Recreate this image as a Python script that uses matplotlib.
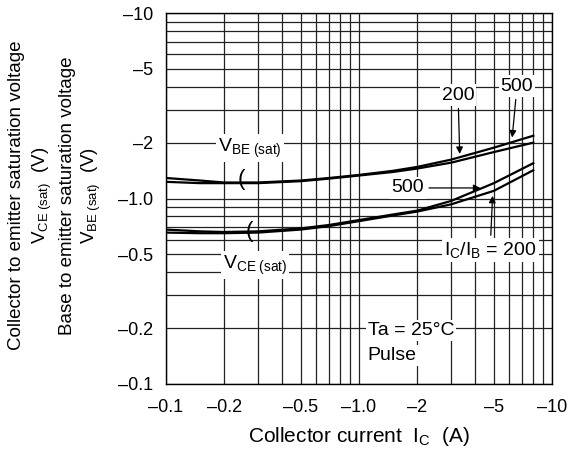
import matplotlib
matplotlib.use("Agg")
import matplotlib.pyplot as plt
from matplotlib.ticker import FixedLocator, NullFormatter

plt.rcParams["font.family"] = ["Liberation Sans", "DejaVu Sans"]
plt.rcParams["mathtext.fontset"] = "custom"
plt.rcParams["mathtext.rm"] = "Liberation Sans"
plt.rcParams["mathtext.it"] = "Liberation Sans"

# collector current magnitude (A), plotted on -0.1 .. -10 scale
IC = [0.1, 0.15, 0.2, 0.3, 0.5, 0.7, 1.0, 1.5, 2.0, 3.0, 5.0, 8.0]
VBE_500 = [1.29, 1.25, 1.22, 1.22, 1.25, 1.29, 1.34, 1.41, 1.48, 1.62, 1.88, 2.18]
VBE_200 = [1.23, 1.21, 1.21, 1.21, 1.24, 1.28, 1.33, 1.39, 1.45, 1.56, 1.78, 2.00]
VCE_500 = [0.68, 0.665, 0.66, 0.665, 0.69, 0.72, 0.765, 0.82, 0.86, 0.97, 1.21, 1.55]
VCE_200 = [0.655, 0.65, 0.65, 0.655, 0.68, 0.71, 0.755, 0.81, 0.85, 0.93, 1.10, 1.42]

X_TICKS = [0.1, 0.2, 0.5, 1.0, 2, 5, 10]
X_LABELS = ["\u20130.1", "\u20130.2", "\u20130.5", "\u20131.0", "\u20132", "\u20135", "\u201310"]
Y_TICKS = [0.1, 0.2, 0.5, 1.0, 2, 5, 10]
Y_LABELS = ["\u20130.1", "\u20130.2", "\u20130.5", "\u20131.0", "\u20132", "\u20135", "\u201310"]
GRID = [k * 10.0 ** e for e in (-1, 0) for k in range(1, 10)] + [10.0]

fig = plt.figure(figsize=(5.71, 4.49), dpi=100)
ax = fig.add_axes([0.2907, 0.1448, 0.676, 0.8262])
ax.set_xscale("log")
ax.set_yscale("log")
ax.set_xlim(0.1, 10)
ax.set_ylim(0.1, 10)

for g in GRID:
    ax.axvline(g, color="#222222", lw=0.9, zorder=1)
    ax.axhline(g, color="#222222", lw=0.9, zorder=1)

for series in (VBE_500, VBE_200, VCE_500, VCE_200):
    ax.plot(IC, series, color="black", lw=1.6, zorder=3)

ax.xaxis.set_major_locator(FixedLocator(X_TICKS))
ax.yaxis.set_major_locator(FixedLocator(Y_TICKS))
ax.xaxis.set_minor_formatter(NullFormatter())
ax.yaxis.set_minor_formatter(NullFormatter())
ax.set_xticklabels(X_LABELS)
ax.set_yticklabels(Y_LABELS)
ax.tick_params(which="both", length=0, labelsize=13)
ax.tick_params(axis="x", pad=11)
ax.tick_params(axis="y", pad=9)
for s in ax.spines.values():
    s.set_linewidth(1.0)

fig.text(0.628, 1 - 437 / 449, "Collector current  I$_\\mathrm{C}$  (A)", fontsize=15,
         ha="center", va="center")
ylab_lines = [
    (17, "Collector to emitter saturation voltage"),
    (42, "V$_\\mathrm{CE\\ (sat)}$  (V)"),
    (68, "Base to emitter saturation voltage"),
    (91, "V$_\\mathrm{BE\\ (sat)}$  (V)"),
]
for px, txt in ylab_lines:
    fig.text(px / 571, 0.565, txt, rotation=90, ha="center", va="center", fontsize=13.5)

box = dict(facecolor="white", edgecolor="none", pad=1.5)
ax.text(0.272, 1.87, "V$_\\mathrm{BE\\ (sat)}$", fontsize=14, ha="center", va="center", bbox=box, zorder=4)
ax.text(0.289, 0.438, "V$_\\mathrm{CE\\ (sat)}$", fontsize=14, ha="center", va="center", bbox=box, zorder=4)
ax.text(0.245, 1.26, "(", fontsize=16, ha="center", va="center", zorder=4)
ax.text(0.27, 0.66, "(", fontsize=16, ha="center", va="center", zorder=4)
ax.text(1.11, 0.195, "Ta = 25\u00b0C", fontsize=14, ha="left", va="center", bbox=box, zorder=4)
ax.text(1.11, 0.143, "Pulse", fontsize=14, ha="left", va="center", bbox=box, zorder=4)

arrow = dict(arrowstyle="-|>", color="black", lw=0.9, mutation_scale=10)
ax.annotate("200", xy=(3.33, 1.68), xytext=(3.26, 3.61), fontsize=14, ha="center", va="center",
            bbox=box, arrowprops=arrow, zorder=4)
ax.annotate("500", xy=(6.2, 2.06), xytext=(6.59, 4.04), fontsize=14, ha="center", va="center",
            bbox=box, arrowprops=arrow, zorder=4)
ax.annotate("500", xy=(4.4, 1.14), xytext=(1.79, 1.14), fontsize=14, ha="center", va="center",
            bbox=box, arrowprops=arrow, zorder=4)
ax.annotate("I$_\\mathrm{C}$/I$_\\mathrm{B}$ = 200", xy=(4.93, 1.07), xytext=(4.78, 0.527),
            fontsize=14, ha="center", va="center", bbox=box, arrowprops=arrow, zorder=4)

fig.savefig("out.png", dpi=100)
